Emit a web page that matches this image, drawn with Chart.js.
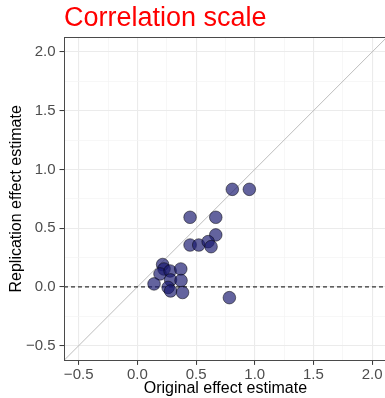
<!DOCTYPE html>
<html><head><meta charset="utf-8">
<script src="https://cdn.jsdelivr.net/npm/chart.js@4"></script>
<style>html,body{margin:0;padding:0;overflow:hidden;background:#fff}#wrap{width:394px;height:398px}</style>
</head><body><div id="wrap"><canvas id="c" width="394" height="398"></canvas></div>
<script>
const chartTitle = 'Correlation scale';
const xTitle = 'Original effect estimate';
const yTitle = 'Replication effect estimate';
const originalEstimate    = [0.809, 0.954, 0.449, 0.668, 0.668, 0.449, 0.523, 0.603, 0.628, 0.784, 0.215, 0.227, 0.193, 0.279, 0.370, 0.283, 0.372, 0.142, 0.262, 0.283, 0.385];
const replicationEstimate = [0.831, 0.831, 0.593, 0.593, 0.443, 0.357, 0.357, 0.386, 0.343, -0.091, 0.191, 0.153, 0.111, 0.136, 0.153, 0.060, 0.055, 0.026, -0.004, -0.034, -0.047];
const majorTicks = [-0.5, 0, 0.5, 1, 1.5, 2];
const tickLabels = ['\u22120.5', '0.0', '0.5', '1.0', '1.5', '2.0'];
const minorTicks = [-0.25, 0.25, 0.75, 1.25, 1.75];
const axisRange = [-0.625, 2.125];
const zeroLineY = 0;

const FONT = '"Liberation Sans", Arial, Helvetica, sans-serif';
Chart.defaults.font.family = FONT;

const allTicks = majorTicks.concat(minorTicks).sort((a, b) => a - b);
const isMajor = v => majorTicks.some(m => Math.abs(m - v) < 1e-9);
const labelFor = v => { const i = majorTicks.findIndex(m => Math.abs(m - v) < 1e-9); return i >= 0 ? tickLabels[i] : ''; };

const points = originalEstimate.map((x, i) => ({x, y: replicationEstimate[i]}));
const identityLine = axisRange.map(v => ({x: v, y: v}));
const zeroLine = axisRange.map(v => ({x: v, y: zeroLineY}));

const gridOpts = {
  color: c => isMajor(c.tick.value) ? 'rgb(235,235,235)' : 'rgb(243,243,243)',
  lineWidth: c => isMajor(c.tick.value) ? 1.1 : 0.7,
  tickColor: c => isMajor(c.tick.value) ? '#333333' : 'rgba(0,0,0,0)',
  tickWidth: 1,
  tickLength: 4.5,
  drawTicks: true
};

const decor = {
  id: 'decor',
  afterDatasetsDraw(chart) {
    const {ctx, chartArea: a} = chart;
    ctx.save();
    ctx.strokeStyle = '#4a4a4a';
    ctx.lineWidth = 1;
    ctx.strokeRect(Math.round(a.left) + 0.5, Math.round(a.top) + 0.5, Math.round(a.right - a.left), Math.round(a.bottom - a.top));
    ctx.restore();
  },
  afterDraw(chart) {
    const {ctx, chartArea: a} = chart;
    ctx.save();
    ctx.font = '27px ' + FONT;
    ctx.fillStyle = '#ff0000';
    ctx.textBaseline = 'alphabetic';
    ctx.textAlign = 'left';
    ctx.fillText(chartTitle, a.left, 26);
    ctx.restore();
  }
};

new Chart(document.getElementById('c'), {
  type: 'scatter',
  data: {
    datasets: [
      {data: points, order: 0, pointRadius: 6.3, pointBorderWidth: 0.9,
       backgroundColor: 'rgba(25,25,112,0.68)', borderColor: 'rgba(0,0,0,0.55)'},
      {data: zeroLine, order: 1, showLine: true, pointRadius: 0, borderColor: '#333333', borderWidth: 1.2, borderDash: [4, 3]},
      {data: identityLine, order: 2, showLine: true, pointRadius: 0, borderColor: '#bdbdbd', borderWidth: 1}
    ]
  },
  options: {
    responsive: false,
    animation: false,
    events: [],
    layout: {padding: {top: 37.3, right: 3.2, left: 0, bottom: 0}},
    plugins: {legend: {display: false}, tooltip: {enabled: false}, title: {display: false}},
    scales: {
      x: {
        type: 'linear', min: axisRange[0], max: axisRange[1],
        afterBuildTicks: s => { s.ticks = allTicks.map(v => ({value: v})); },
        afterFit: s => { s.height = 37.6; },
        border: {display: false},
        grid: gridOpts,
        ticks: {autoSkip: false, maxRotation: 0, padding: 1, color: '#4d4d4d', font: {size: 15}, callback: v => labelFor(v)},
        title: {display: true, text: xTitle, color: '#000', font: {size: 16}, padding: {top: 0, bottom: 0}}
      },
      y: {
        type: 'linear', min: axisRange[0], max: axisRange[1],
        afterBuildTicks: s => { s.ticks = allTicks.map(v => ({value: v})); },
        afterFit: s => { s.width = 64; },
        border: {display: false},
        grid: gridOpts,
        ticks: {autoSkip: false, padding: 4, color: '#4d4d4d', font: {size: 15}, callback: v => labelFor(v)},
        title: {display: true, text: yTitle, color: '#000', font: {size: 16}, padding: {top: 7, bottom: 0}}
      }
    }
  },
  plugins: [decor]
});
</script>
</body></html>
